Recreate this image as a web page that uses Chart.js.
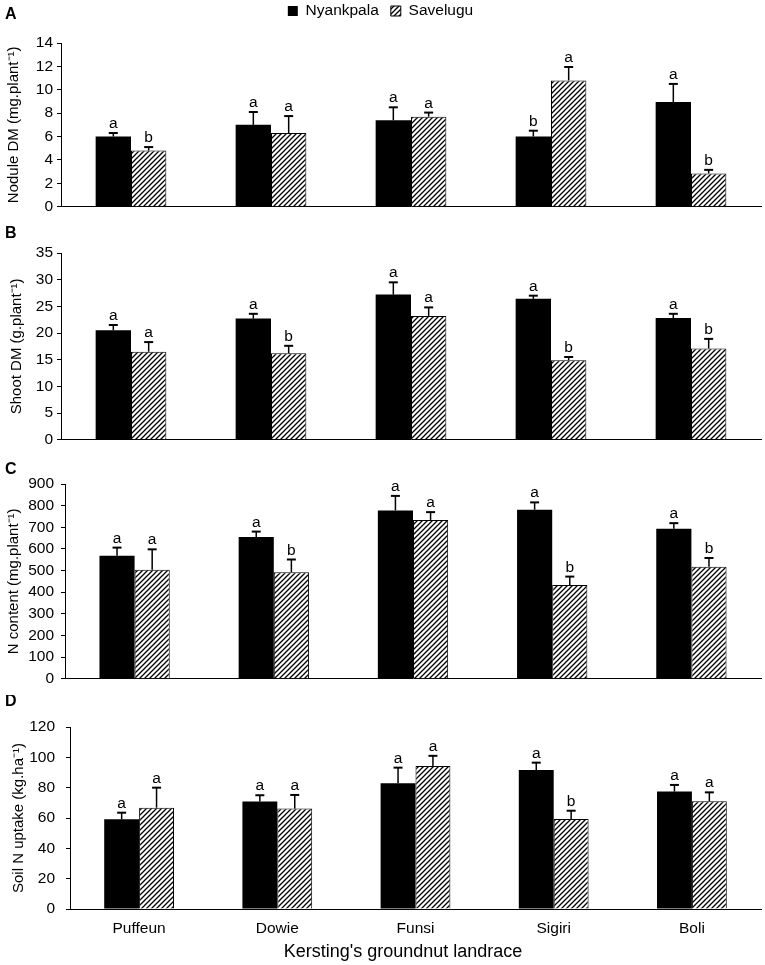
<!DOCTYPE html>
<html><head><meta charset="utf-8">
<script src="https://cdn.jsdelivr.net/npm/chart.js@4.4.1/dist/chart.umd.min.js"></script>
<style>
html,body{margin:0;padding:0;background:#fff;}
#wrap{position:relative;width:765px;height:965px;overflow:hidden;}
#wrap canvas{position:absolute;left:0;}
</style></head><body>
<div id="wrap">
<canvas id="cA" width="765" height="220" style="top:0px"></canvas>
<canvas id="cB" width="765" height="233" style="top:220px"></canvas>
<canvas id="cC" width="765" height="242" style="top:453px"></canvas>
<canvas id="cD" width="765" height="270" style="top:695px"></canvas>
</div>
<script>
// ---------- data ----------
const categories = ['Puffeun', 'Dowie', 'Funsi', 'Sigiri', 'Boli'];
const seriesNames = ['Nyankpala', 'Savelugu'];

// A: Nodule DM (mg.plant-1)
const noduleNyankpala     = [6.0, 7.0, 7.4, 6.0, 8.95];
const noduleNyankpalaErr  = [0.3, 1.1, 1.1, 0.5, 1.55];
const noduleNyankpalaSig  = ['a', 'a', 'a', 'b', 'a'];
const noduleSavelugu      = [4.8, 6.3, 7.7, 10.8, 2.85];
const noduleSaveluguErr   = [0.3, 1.45, 0.35, 1.15, 0.3];
const noduleSaveluguSig   = ['b', 'a', 'a', 'a', 'b'];
const noduleTicks = {min: 0, max: 14, step: 2};

// B: Shoot DM (g.plant-1)
const shootNyankpala      = [20.5, 22.7, 27.2, 26.4, 22.8];
const shootNyankpalaErr   = [1.0, 0.9, 2.3, 0.6, 0.8];
const shootNyankpalaSig   = ['a', 'a', 'a', 'a', 'a'];
const shootSavelugu       = [16.5, 16.2, 23.2, 14.9, 17.1];
const shootSaveluguErr    = [1.8, 1.4, 1.6, 0.6, 1.8];
const shootSaveluguSig    = ['a', 'b', 'a', 'b', 'b'];
const shootTicks = {min: 0, max: 35, step: 5};

// C: N content (mg.plant-1)
const nContentNyankpala    = [568, 655, 778, 781, 693];
const nContentNyankpalaErr = [38, 25, 67, 34, 26];
const nContentNyankpalaSig = ['a', 'a', 'a', 'a', 'a'];
const nContentSavelugu     = [504, 492, 734, 433, 518];
const nContentSaveluguErr  = [94, 59, 36, 39, 40];
const nContentSaveluguSig  = ['a', 'b', 'a', 'b', 'b'];
const nContentTicks = {min: 0, max: 900, step: 100};

// D: Soil N uptake (kg.ha-1)
const soilNNyankpala     = [59.1, 70.8, 82.9, 91.6, 77.4];
const soilNNyankpalaErr  = [4.4, 4.2, 10.3, 4.9, 4.4];
const soilNNyankpalaSig  = ['a', 'a', 'a', 'a', 'a'];
const soilNSavelugu      = [66.8, 66.2, 94.3, 59.3, 71.0];
const soilNSaveluguErr   = [13.2, 9.0, 6.7, 5.5, 5.9];
const soilNSaveluguSig   = ['a', 'a', 'a', 'b', 'a'];
const soilNTicks = {min: 0, max: 120, step: 20};

const xAxisTitle = "Kersting's groundnut landrace";

// ---------- styling ----------
const FONT = '"Liberation Sans", Arial, Helvetica, sans-serif';
Chart.defaults.font.family = FONT;
Chart.defaults.color = '#000';

function makeHatch() {
  const s = 5;
  const c = document.createElement('canvas');
  c.width = s; c.height = s;
  const g = c.getContext('2d');
  g.fillStyle = '#fff'; g.fillRect(0, 0, s, s);
  g.strokeStyle = '#000'; g.lineWidth = 1.3;
  g.beginPath();
  g.moveTo(0, s); g.lineTo(s, 0);
  g.moveTo(-1, 1); g.lineTo(1, -1);
  g.moveTo(s - 1, s + 1); g.lineTo(s + 1, s - 1);
  g.stroke();
  return g.createPattern(c, 'repeat');
}
const hatch = makeHatch();

function annotPlugin(panel, py) {
  return {
    id: 'annot' + panel,
    afterDatasetsDraw(chart) {
      const ctx = chart.ctx, y = chart.scales.y;
      ctx.save();
      chart.data.datasets.forEach((ds, i) => {
        const meta = chart.getDatasetMeta(i);
        meta.data.forEach((bar, j) => {
          const top = y.getPixelForValue(ds.data[j]);
          const tip = y.getPixelForValue(ds.data[j] + ds.errors[j]);
          ctx.strokeStyle = '#000';
          ctx.lineWidth = 1.5;
          ctx.beginPath();
          ctx.moveTo(bar.x, top); ctx.lineTo(bar.x, tip);
          ctx.stroke();
          ctx.lineWidth = 2;
          ctx.beginPath();
          ctx.moveTo(bar.x - 4.5, tip); ctx.lineTo(bar.x + 4.5, tip);
          ctx.stroke();
          ctx.fillStyle = '#000';
          ctx.font = '15.5px ' + FONT;
          ctx.textAlign = 'center';
          ctx.textBaseline = 'alphabetic';
          ctx.fillText(ds.letters[j], bar.x, tip - 5);
        });
      });
      ctx.font = 'bold 16px ' + FONT;
      ctx.fillStyle = '#000';
      ctx.textAlign = 'left';
      ctx.textBaseline = 'middle';
      ctx.fillText(panel, 5, py);
      ctx.restore();
    }
  };
}

// legend sits above the plot of panel A; make its box end where the plot starts
const legendHeightPlugin = {
  id: 'legendHeight',
  beforeInit(chart) {
    const orig = chart.legend.fit;
    chart.legend.fit = function () {
      orig.bind(chart.legend)();
      this.height = 51.75;
    };
  }
};

function datasets(nv, ne, nl, sv, se, sl) {
  return [
    {label: seriesNames[0], data: nv, errors: ne, letters: nl,
     backgroundColor: '#000', borderColor: '#000', borderWidth: 0,
     categoryPercentage: 0.505, barPercentage: 1.0},
    {label: seriesNames[1], data: sv, errors: se, letters: sl,
     backgroundColor: hatch, borderColor: '#000', borderWidth: 1,
     categoryPercentage: 0.505, barPercentage: 1.0}
  ];
}

function makeChart(id, cfg) {
  const isLast = !!cfg.last;
  const opts = {
    responsive: false,
    maintainAspectRatio: false,
    animation: false,
    events: [],
    layout: {padding: {top: cfg.padTop, bottom: cfg.padBottom, left: 0, right: 4}},
    plugins: {
      tooltip: {enabled: false},
      legend: cfg.legend ? {
        display: true, position: 'top', align: 'center',
        labels: {boxWidth: 10, boxHeight: 10, padding: 12,
                 font: {size: 15.5}, color: '#000'}
      } : {display: false}
    },
    scales: {
      x: {
        grid: {display: false, drawTicks: false},
        border: {display: true, color: '#000', width: 1},
        ticks: {display: isLast, padding: 10, font: {size: 15.5}, color: '#000'},
        title: isLast ? {display: true, text: xAxisTitle + '\u0020\u0020\u0020\u0020\u0020',
                         font: {size: 18, lineHeight: 1.2}, color: '#000',
                         padding: {top: 0, bottom: 2}} : {display: false},
        afterFit(s) { s.height = cfg.xHeight; }
      },
      y: {
        min: cfg.ticks.min, max: cfg.ticks.max,
        ticks: {stepSize: cfg.ticks.step, padding: cfg.tickPad, font: {size: 15.5}, color: '#000'},
        grid: {display: true, drawOnChartArea: false, drawTicks: true, tickLength: 4,
               color: '#000', tickColor: '#000'},
        border: {display: true, color: '#000', width: 1},
        title: {display: true, text: cfg.yTitle, font: {size: 15, lineHeight: 1.2},
                color: '#000', padding: {top: cfg.titlePad, bottom: 0}},
        afterFit(s) { s.width = cfg.yWidth; }
      }
    }
  };
  const plugins = [annotPlugin(cfg.panel, cfg.panelY)];
  if (cfg.legend) plugins.unshift(legendHeightPlugin);
  return new Chart(document.getElementById(id), {
    type: 'bar',
    data: {labels: categories, datasets: cfg.datasets},
    options: opts,
    plugins: plugins
  });
}

makeChart('cA', {
  panel: 'A', panelY: 15, legend: true,
  padTop: -8.75, padBottom: 10, xHeight: 0, yWidth: 61, tickPad: 4, titlePad: 4.5,
  ticks: noduleTicks, yTitle: 'Nodule DM (mg.plant\u207B\u00B9)',
  datasets: datasets(noduleNyankpala, noduleNyankpalaErr, noduleNyankpalaSig,
                     noduleSavelugu, noduleSaveluguErr, noduleSaveluguSig)
});
makeChart('cB', {
  panel: 'B', panelY: 13.5,
  padTop: 33, padBottom: 10, xHeight: 0, yWidth: 61, tickPad: 4, titlePad: 8,
  ticks: shootTicks, yTitle: 'Shoot DM (g.plant\u207B\u00B9)',
  datasets: datasets(shootNyankpala, shootNyankpalaErr, shootNyankpalaSig,
                     shootSavelugu, shootSaveluguErr, shootSaveluguSig)
});
makeChart('cC', {
  panel: 'C', panelY: 17,
  padTop: 31, padBottom: 10, xHeight: 0, yWidth: 65, tickPad: 7, titlePad: 5,
  ticks: nContentTicks, yTitle: 'N content (mg.plant\u207B\u00B9)',
  datasets: datasets(nContentNyankpala, nContentNyankpalaErr, nContentNyankpalaSig,
                     nContentSavelugu, nContentSaveluguErr, nContentSaveluguSig)
});
makeChart('cD', {
  panel: 'D', panelY: 7, last: true,
  padTop: 32, padBottom: 0, xHeight: 56, yWidth: 70, tickPad: 11, titlePad: 9.5,
  ticks: soilNTicks, yTitle: 'Soil N uptake (kg.ha\u207B\u00B9)',
  datasets: datasets(soilNNyankpala, soilNNyankpalaErr, soilNNyankpalaSig,
                     soilNSavelugu, soilNSaveluguErr, soilNSaveluguSig)
});
</script>
</body></html>
